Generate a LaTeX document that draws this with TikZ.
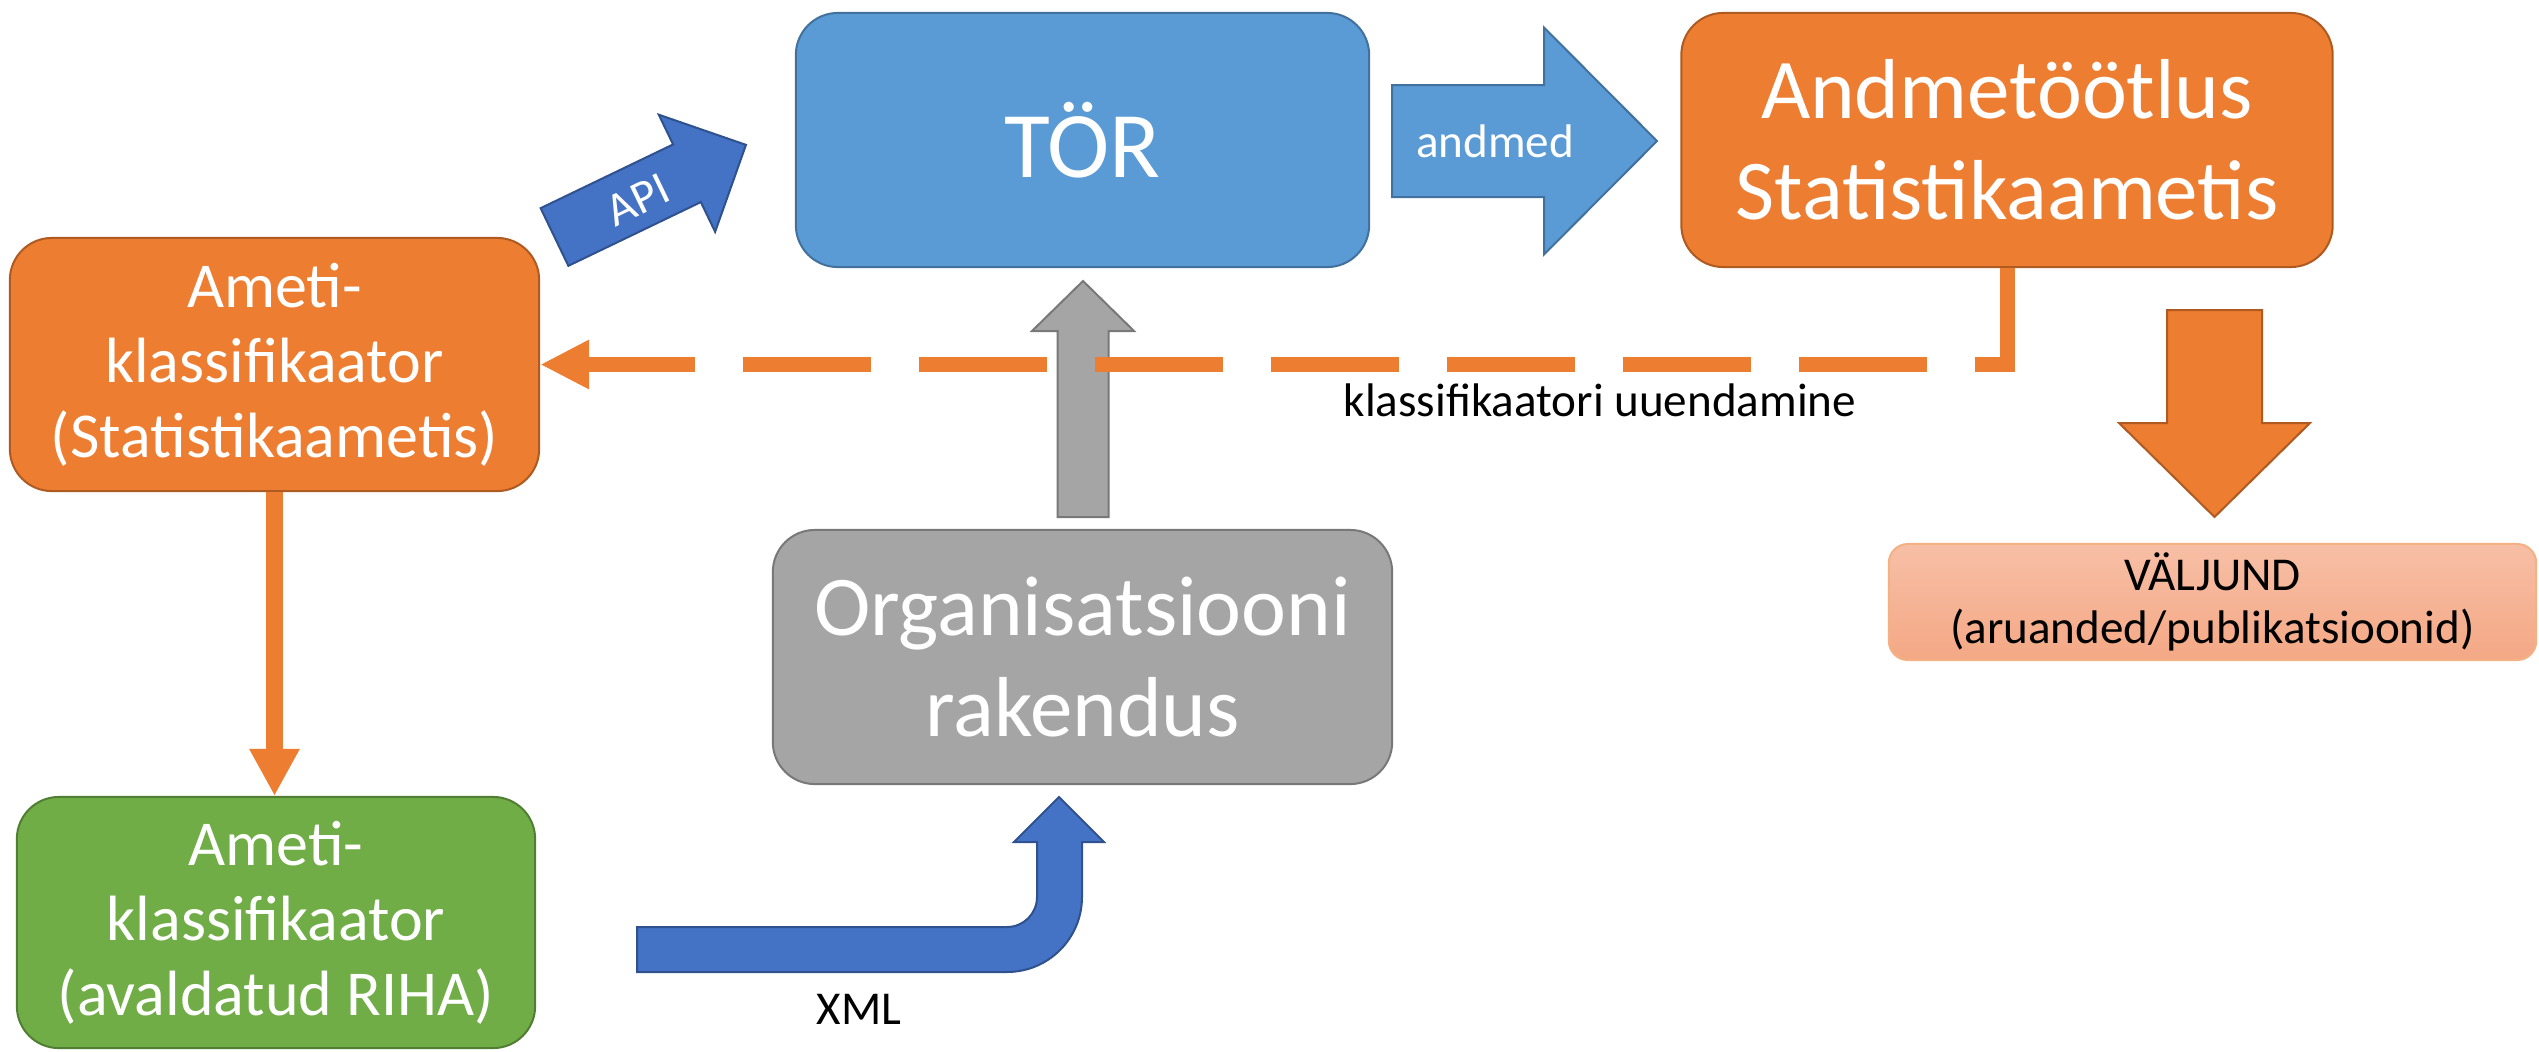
\documentclass[tikz,border=0pt]{standalone}
\usepackage{fontspec}
\setmainfont{Carlito}
\usepackage{tikz}
\usetikzlibrary{arrows.meta, positioning}
\definecolor{cOrange}{HTML}{ED7D31}
\definecolor{cOrangeD}{HTML}{AE5A21}
\definecolor{cBlue}{HTML}{5B9BD5}
\definecolor{cBlueD}{HTML}{41719C}
\definecolor{cDark}{HTML}{4472C4}
\definecolor{cDarkD}{HTML}{2F528F}
\definecolor{cGray}{HTML}{A5A5A5}
\definecolor{cGrayD}{HTML}{787878}
\definecolor{cGreen}{HTML}{70AD47}
\definecolor{cGreenD}{HTML}{507E32}
\definecolor{cOutTop}{HTML}{F7BFA6}
\definecolor{cOutBot}{HTML}{F4A885}
\definecolor{cOutLine}{HTML}{F4B183}
\newcommand{\blockarrow}[7]{\draw[#1, shift={#2}, rotate=#3]
  (0,{-#5/2}) -- ({#4-#7},{-#5/2}) -- ({#4-#7},{-#6/2}) -- (#4,0)
  -- ({#4-#7},{#6/2}) -- ({#4-#7},{#5/2}) -- (0,{#5/2}) -- cycle;}

\begin{document}
\begin{tikzpicture}[x=0.01cm, y=-0.01cm,
  box/.style={draw=#1D, fill=#1, rounded corners=0.42cm, line width=0.02cm, text=white, align=center, inner sep=0pt, minimum height=2.54cm},
  fHuge/.style={font=\fontsize{26.7pt}{32pt}\selectfont},
  fBig/.style={font=\fontsize{24.2pt}{28.6pt}\selectfont},
  fMid/.style={font=\fontsize{18.2pt}{21.3pt}\selectfont},
  fSmall/.style={font=\fontsize{13.4pt}{15.1pt}\selectfont},
  arrbox/.style={fill=#1, draw=#1D, line width=0.02cm, line join=miter},
  lbl/.style={fSmall, inner sep=0pt},
  conn/.style={cOrange, line width=#1, line join=miter}]
  \useasboundingbox (0,0) rectangle (2539,1051);
  \node[box=cOrange, fMid, minimum width=5.29cm, minimum height=2.53cm] (amstat) at (274.5,364.5) {Ameti-\\klassifikaator\\(Statistikaametis)};
  \node[box=cGreen, fMid, minimum width=5.18cm, minimum height=2.51cm] (riha) at (276,922.5) {Ameti-\\klassifikaator\\(avaldatud RIHA)};
  \node[box=cBlue, fHuge, minimum width=5.73cm] (tor) at (1082.5,140) {TÖR};
  \node[box=cOrange, fBig, minimum width=6.51cm] (andm) at (2007,140) {Andmetöötlus\\Statistikaametis};
  \node[box=cGray, fBig, minimum width=6.19cm] (org) at (1082.5,657) {Organisatsiooni\\rakendus};
  \node[fSmall, align=center, inner sep=0pt, rounded corners=0.19cm, draw=cOutLine, line width=0.02cm, top color=cOutTop, bottom color=cOutBot, minimum width=6.47cm, minimum height=1.16cm] (valj) at (2212.5,602) {VÄLJUND\\(aruanded/publikatsioonid)};
  \coordinate (apitail) at (554.5,237);
  \coordinate (andmtail) at (1392,141);
  \coordinate (orgtail) at (1083,517);
  \coordinate (valjtail) at (2214.5,310);
  \blockarrow{arrbox=cDark}{(apitail)}{25.7}{212.5}{64}{130}{65.5}
  \blockarrow{arrbox=cBlue}{(andmtail)}{0}{265}{112}{227}{113}
  \blockarrow{arrbox=cGray}{(orgtail)}{90}{236}{51}{102}{50}
  \blockarrow{arrbox=cOrange}{(valjtail)}{-90}{207}{95}{191}{94}
  \draw[arrbox=cDark] (637,927) -- (1007,927) .. controls (1023.6,927) and (1037,913.6) .. (1037,897)
    -- (1037,842) -- (1014,842) -- (1059,797) -- (1104,842) -- (1082,842) -- (1082,897)
    .. controls (1082,938.4) and (1048.4,972) .. (1007,972) -- (637,972) -- cycle;
  \node[lbl, text=white, rotate=25.7] (apilbl) at (638,200) {API};
  \node[lbl, text=white] (andmlbl) at (1495,141) {andmed};
  \draw[conn=0.15cm, dash pattern=on 1.28cm off 0.48cm, -{Triangle[width=0.46cm, length=0.49cm]}] (andm.south) |- (amstat.east);
  \draw[conn=0.16cm, -{Triangle[width=0.47cm, length=0.47cm]}] (amstat.south) -- (amstat.south |- riha.north);
  \node[lbl, anchor=base] (uuend) at (1600,416) {klassifikaatori uuendamine};
  \node[lbl, anchor=base] (xml) at (859,1024) {XML};
\end{tikzpicture}
\end{document}
